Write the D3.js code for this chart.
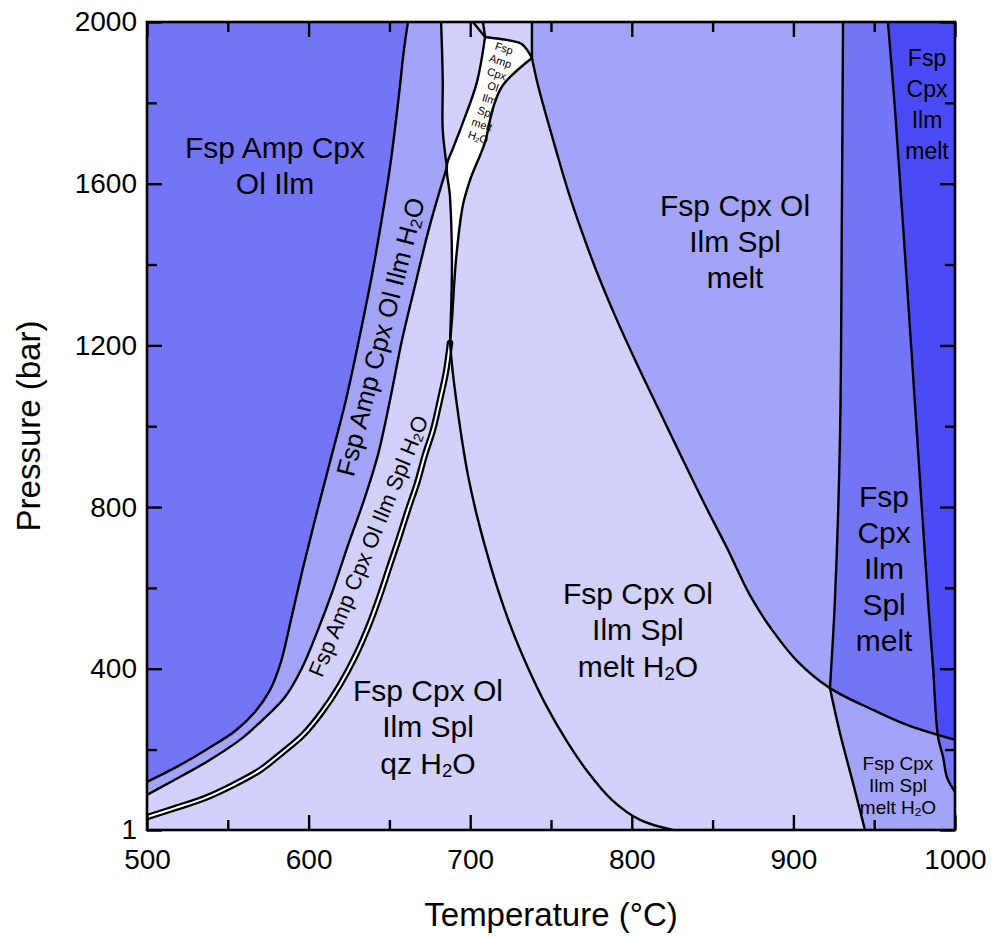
<!DOCTYPE html>
<html>
<head>
<meta charset="utf-8">
<script src="https://cdn.jsdelivr.net/npm/d3@7"></script>
<style>
body { margin: 0; background: #fff; }
svg text { font-family: "Liberation Sans", Arial, sans-serif; fill: #000; }
</style>
</head>
<body>
<svg width="995" height="937"></svg>
<script>
// phase boundaries, points are [T (°C), P (bar)]
var curveA = [[500,120],[519.2,159],[537.1,201],[554.5,246],[566.8,293],[576.1,347],[582.9,417],[589.1,521],[595.9,639],[603.9,768],[613.2,911],[623.1,1065],[631.8,1226],[639.2,1374],[645.4,1515],[651,1659],[655.9,1819],[659,1931],[661.5,2000]];
var curveB = [[500,88],[516.1,123],[537.1,170],[557.5,224],[573,279],[585.4,330],[595.9,402],[605.8,496],[615.1,595],[624.4,706],[634.3,817],[642.9,929],[650.4,1065],[657.8,1213],[665.2,1337],[675.1,1498],[685.6,1641]];
var vLine = [[685.6,1641],[683,1733],[683,1857],[682,2000]];
var stripLine = [[687.5,1206],[685,1134],[681.3,1065],[677,991],[672,929],[667.1,859],[661.5,793],[655.9,723],[650.4,657],[644.2,582],[637.4,508],[629.3,434],[619.4,360],[608.3,293],[596.5,236],[584.2,194],[569.9,149],[553.2,112],[535.9,80],[517.3,55],[500,33]];
var qzLine = [[687.5,1206],[689.4,1127],[691.8,1052],[694.9,966],[698.6,879],[703.6,788],[709.8,694],[717.2,595],[725.9,496],[735.8,402],[746.9,310],[759.3,224],[772.9,144],[787.8,75],[805.1,26],[825.5,1]];
var meltTop = [[738.2,2000],[738.2,1911]];
var meltLine = [[738.2,1911],[741.9,1844],[746.9,1770],[753.1,1683],[760.5,1583],[769.2,1480],[779.1,1374],[790.2,1268],[802.6,1159],[816.2,1045],[831.1,921],[845.3,805],[858.9,699],[873.1,582],[886.8,496],[902.8,417],[922.6,352],[949.3,298],[970.3,261],[1000,224]];
var line930Up = [[930.7,2000],[930,1535],[928.8,966],[925.7,570],[922.6,352]];
var line930Low = [[922.6,352],[928.8,241],[936.9,117],[944.3,1]];
var line960 = [[958.5,2000],[962.9,1782],[967.2,1535],[972.2,1238],[977.1,941],[983.3,570],[986.4,404],[989.5,231],[992.6,182],[995,132],[1000,95]];
// white field (Fsp Amp Cpx Ol Ilm Spl melt H2O)
var fieldTop = [[709.2,1963],[723.4,1955],[732.1,1945],[738.2,1911]];
var fieldRight = [[738.2,1911],[720.3,1844],[714.1,1787],[709.2,1703],[699.9,1609],[695.5,1547],[691.2,1411],[688.7,1263],[687.5,1206]];
var fieldLeft = [[687.5,1206],[688.7,1404],[687.5,1567],[685.6,1646],[689.4,1688],[694.9,1745],[704.2,1852],[709.2,1963]];
var topLine1 = [[701.7,2000],[709.2,1963]];
var topLine2 = [[707.9,2000],[709.2,1963]];

// axes
var xMajor = [500,600,700,800,900,1000];
var xMinor = [550,650,750,850,950];
var yMajor = [1,400,800,1200,1600,2000];
var yMinor = [200,600,1000,1400,1800];

// field labels: [T, P, lines]
var bigLabels = [
  [579.2,1646,["Fsp Amp Cpx","Ol Ilm"]],
  [863.9,1458,["Fsp Cpx Ol","Ilm Spl","melt"]],
  [803.8,496,["Fsp Cpx Ol","Ilm Spl","melt H2O"]],
  [673.9,256,["Fsp Cpx Ol","Ilm Spl","qz H2O"]],
  [956.1,647,["Fsp","Cpx","Ilm","Spl","melt"]]
];
var midLabel = [982.7,1795,["Fsp","Cpx","Ilm","melt"]];
var smallLabel = [964.7,112,["Fsp Cpx","Ilm Spl","melt H2O"]];
var tinyLabel = [713,1825,["Fsp","Amp","Cpx","Ol","Ilm","Spl","melt","H2O"]];
var slantLabels = [
  [644.5,1221,-75.5,"Fsp Amp Cpx Ol Ilm H2O",26],
  [636.8,704,-67.6,"Fsp Amp Cpx Ol Ilm Spl H2O",22]
];

var colLight = "#d1d1fb", colMid = "#a3a3f8", colDark = "#7474f7", colDeep = "#4a4af6";

var svg = d3.select("svg");
var margin = { top: 22, right: 40, bottom: 107, left: 147 };
var innerWidth = 808, innerHeight = 808;
var x = d3.scaleLinear().domain([500,1000]).range([0, innerWidth]);
var y = d3.scaleLinear().domain([1,2000]).range([innerHeight, 0]);
var g = svg.append('g').attr('transform', `translate(${margin.left},${margin.top})`);
var straight = d3.line().x(d => x(d[0])).y(d => y(d[1]));
var smooth = d3.line().x(d => x(d[0])).y(d => y(d[1])).curve(d3.curveCatmullRom.alpha(0.5));

// joins boundary pieces into one path; single points are corners
function pathFrom(parts) {
  return parts.map(function (p, i) {
    var s = p.length === 1 ? 'M' + x(p[0][0]) + ',' + y(p[0][1]) : (p.length > 2 ? smooth(p) : straight(p));
    return i ? s.replace(/^M/, 'L') : s;
  }).join('');
}

var defs = svg.append('defs');
defs.append('clipPath').attr('id','plotClip').append('rect').attr('width',innerWidth).attr('height',innerHeight);
defs.append('clipPath').attr('id','aboveMelt').append('path')
  .attr('d', pathFrom([meltTop, meltLine, [[1000,2000]]]) + 'Z');

var fields = g.append('g').attr('clip-path','url(#plotClip)');
fields.append('rect').attr('width',innerWidth).attr('height',innerHeight).attr('fill',colLight);
function fill(parts, col, clip) {
  var p = fields.append('path').attr('d', pathFrom(parts) + 'Z').attr('fill', col);
  if (clip) p.attr('clip-path', 'url(#' + clip + ')');
}
fill([[[500,2000]], curveB, vLine], colMid);
fill([[[500,2000]], curveA], colDark);
fill([meltTop, meltLine, [[1000,2000]]], colMid);
fill([line930Up, line930Low, [[1000,1]], [[1000,2000]]], colMid);
fill([line930Up, line930Low, [[1000,1]], [[1000,2000]]], colDark, 'aboveMelt');
fill([line960, [[1000,2000]]], colDark);
fill([line960, [[1000,2000]]], colDeep, 'aboveMelt');
fill([fieldTop, fieldRight, fieldLeft], '#fff');

// boundaries
var lines = g.append('g').attr('clip-path','url(#plotClip)').attr('fill','none').attr('stroke','#000')
  .attr('stroke-linejoin','round').attr('stroke-linecap','round');
lines.append('path').attr('d', smooth(stripLine)).attr('stroke-width', 6.5);
lines.append('path').attr('d', smooth(stripLine)).attr('stroke', '#fff').attr('stroke-width', 2);
[curveA, curveB, vLine, qzLine, meltLine, line930Up, line930Low, line960, fieldTop, fieldRight, fieldLeft].forEach(function (c) {
  lines.append('path').attr('d', smooth(c)).attr('stroke-width', 2.4);
});
[meltTop, topLine1, topLine2].forEach(function (c) {
  lines.append('path').attr('d', straight(c)).attr('stroke-width', 2.4);
});

// axes with inward ticks
function axis(gen, vals, size, tr, pad) {
  var a = g.append('g').attr('transform', tr || null)
    .call(gen.tickValues(vals).tickSize(size).tickPadding(pad || 0)
      .tickFormat(pad ? d3.format("d") : ""));
  a.select('.domain').remove();
  a.selectAll('line').attr('stroke-width', 2.4);
  a.selectAll('text').attr('font-size', 28).attr('fill', '#000');
  return a;
}
axis(d3.axisBottom(x), xMajor, -15, `translate(0,${innerHeight})`, 19);
axis(d3.axisBottom(x), xMinor, -10, `translate(0,${innerHeight})`);
axis(d3.axisTop(x), xMajor, -15);
axis(d3.axisTop(x), xMinor, -10);
axis(d3.axisLeft(y), yMajor, -15, null, 10);
axis(d3.axisLeft(y), yMinor, -10);
axis(d3.axisRight(y), yMajor, -15, `translate(${innerWidth},0)`);
axis(d3.axisRight(y), yMinor, -10, `translate(${innerWidth},0)`);

g.append('rect').attr('width', innerWidth).attr('height', innerHeight)
  .attr('fill', 'none').attr('stroke', '#000').attr('stroke-width', 2.6);

// axis titles
svg.append('text').attr('x', margin.left + innerWidth / 2).attr('y', 926)
  .attr('text-anchor', 'middle').attr('font-size', 33).text('Temperature (°C)');
svg.append('text').attr('transform', `translate(40,${margin.top + innerHeight / 2}) rotate(-90)`)
  .attr('text-anchor', 'middle').attr('font-size', 33).text('Pressure (bar)');

// field labels
function addText(sel, s, fs) {
  var m = s.match(/^(.*)H2O$/);
  if (!m) { sel.text(s); return; }
  sel.append('tspan').text(m[1] + 'H');
  sel.append('tspan').attr('font-size', fs * 0.62).attr('dy', fs * 0.22).text('2');
  sel.append('tspan').attr('dy', -fs * 0.22).text('O');
}
function block(lab, fs, lh) {
  var n = lab[2].length;
  lab[2].forEach(function (s, i) {
    var t = g.append('text').attr('x', x(lab[0])).attr('y', y(lab[1]) + (i - (n - 1) / 2) * lh)
      .attr('text-anchor', 'middle').attr('dominant-baseline', 'central').attr('font-size', fs);
    addText(t, s, fs);
  });
}
bigLabels.forEach(function (lab) { block(lab, 30, 36); });
block(midLabel, 23, 31);
block(smallLabel, 19, 22);
slantLabels.forEach(function (lab) {
  var t = g.append('text').attr('transform', `translate(${x(lab[0])},${y(lab[1])}) rotate(${lab[2]})`)
    .attr('text-anchor', 'middle').attr('dominant-baseline', 'central').attr('font-size', lab[4]);
  addText(t, lab[3], lab[4]);
});
var n8 = tinyLabel[2].length;
tinyLabel[2].forEach(function (s, i) {
  var k = i - (n8 - 1) / 2;
  var cx = x(tinyLabel[0]) - 3.7 * k, cy = y(tinyLabel[1]) + 12.7 * k;
  var t = g.append('text').attr('transform', `translate(${cx},${cy}) rotate(18)`)
    .attr('text-anchor', 'middle').attr('dominant-baseline', 'central').attr('font-size', 11);
  addText(t, s, 11);
});
</script>
</body>
</html>
